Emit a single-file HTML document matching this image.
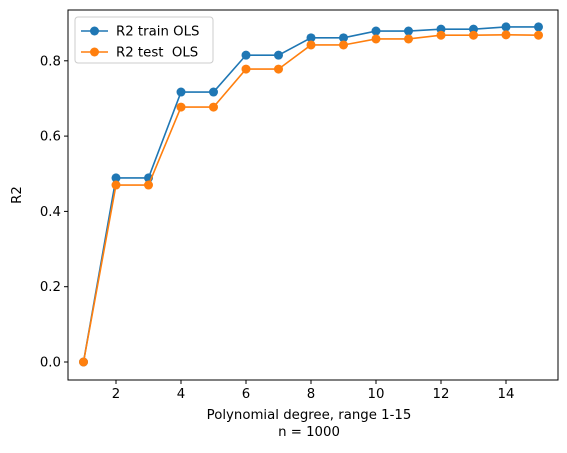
<!DOCTYPE html>
<html><head><meta charset="utf-8"><style>
body{margin:0;background:#fff;font-family:"DejaVu Sans","Liberation Sans",sans-serif}
text{white-space:pre}
</style></head><body>
<svg id="chart" width="567" height="449" xmlns="http://www.w3.org/2000/svg"></svg>
<script>
const degrees=[1,2,3,4,5,6,7,8,9,10,11,12,13,14,15];
const trainR2=[0,0.489,0.489,0.717,0.717,0.815,0.815,0.861,0.861,0.879,0.879,0.884,0.884,0.890,0.890];
const testR2=[0,0.470,0.470,0.677,0.677,0.778,0.778,0.842,0.842,0.858,0.858,0.868,0.868,0.869,0.868];
const xTicks=[2,4,6,8,10,12,14];
const yTicks=[0,0.2,0.4,0.6,0.8];
const L=68,R=558,T=10,B=380;
const x=v=>83.5+(v-1)*32.5;
const y=v=>362-v*376.5;
const svg=document.getElementById('chart');
const NS='http://www.w3.org/2000/svg';
const FS=13.3;
function mk(tag,attrs,parent){const e=document.createElementNS(NS,tag);for(const k in attrs)e.setAttribute(k,attrs[k]);(parent||svg).appendChild(e);return e;}
function txt(s,attrs){const e=mk('text',Object.assign({'font-size':FS,fill:'#000','font-family':'DejaVu Sans, sans-serif'},attrs));e.textContent=s;return e;}
const frame=mk('rect',{x:L,y:T,width:R-L,height:B-T,fill:'none',stroke:'#000','stroke-width':1});


xTicks.forEach(t=>{
  const l=mk('line',{x1:x(t),x2:x(t),y1:B,y2:B+4,stroke:'#000'});
  
  
  const tx=txt(String(t),{x:x(t),y:B+18,'text-anchor':'middle'});
  
  
});
yTicks.forEach(t=>{
  const l=mk('line',{x1:L-4,x2:L,y1:y(t),y2:y(t),stroke:'#000'});
  
  
  const tx=txt(t.toFixed(1),{x:L-7,y:y(t)+4.5,'text-anchor':'end'});
  
  
});
const xt=txt('Polynomial degree, range 1-15',{x:309,y:419,'text-anchor':'middle'});


const xt2=txt('n = 1000',{x:309,y:436,'text-anchor':'middle'});


const yt=txt('R2',{x:0,y:0,'text-anchor':'middle',transform:'translate(21,195) rotate(-90)'});


function series(vals,color,name){
  const g=mk('g',{});
  
  
  mk('polyline',{points:vals.map((v,i)=>x(degrees[i])+','+y(v)).join(' '),fill:'none',stroke:color,'stroke-width':1.6},g);
  vals.forEach((v,i)=>{
    const c=mk('circle',{cx:x(degrees[i]),cy:y(v),r:4.5,fill:color},g);
    
    
  });
}
series(trainR2,'#1f77b4','train-series');
series(testR2,'#ff7f0e','test-series');
const lg=mk('g',{});


mk('rect',{x:75,y:17,width:138,height:46,rx:3,fill:'#fff',stroke:'#ccc'},lg);
[['R2 train OLS','#1f77b4',31],['R2 test  OLS','#ff7f0e',52]].forEach(([s,c,yy])=>{
  mk('line',{x1:81,x2:108,y1:yy,y2:yy,stroke:c,'stroke-width':1.6},lg);
  mk('circle',{cx:94.5,cy:yy,r:4.5,fill:c},lg);
  const t=mk('text',{x:116,y:yy+4.5,'font-size':FS,'font-family':'DejaVu Sans, sans-serif'},lg);
  t.textContent=s;
  
  
});
</script>
</body></html>
